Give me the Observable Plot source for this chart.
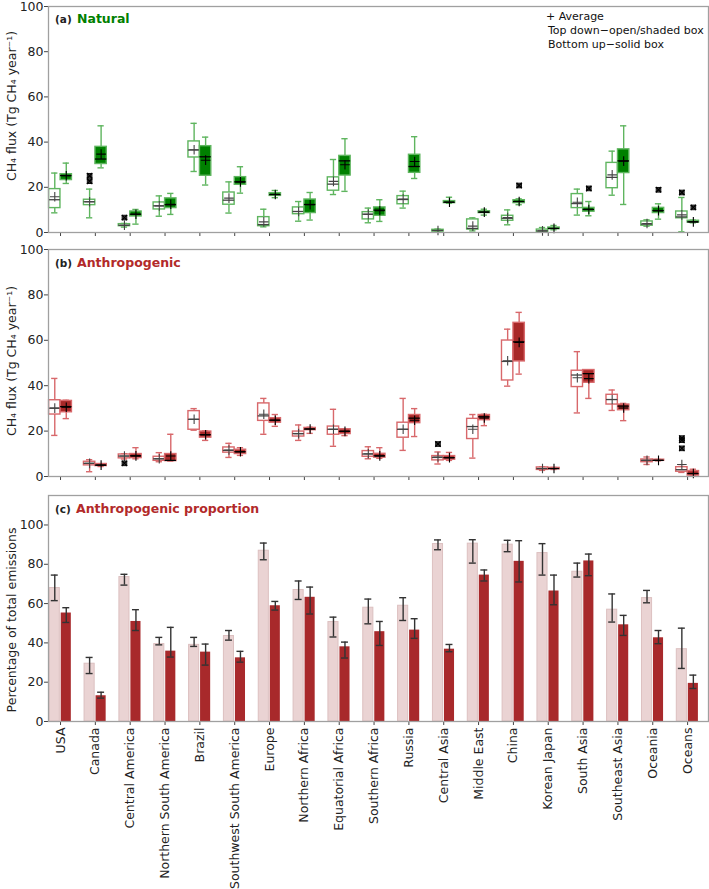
<!DOCTYPE html>
<html>
<head>
<meta charset="utf-8">
<script src="https://cdn.jsdelivr.net/npm/d3@7"></script>
<script src="https://cdn.jsdelivr.net/npm/@observablehq/plot@0.6"></script>
<style>
  html, body { margin: 0; padding: 0; background: #fff; }
  #chart { width: 709px; }
  #chart svg { display: block; }
</style>
</head>
<body>
<div id="chart"></div>
<script>
const regions = ["USA","Canada","Central America","Northern South America","Brazil","Southwest South America","Europe","Northern Africa","Equatorial Africa","Southern Africa","Russia","Central Asia","Middle East","China","Korean Japan","South Asia","Southeast Asia","Oceania","Oceans"];

// Box rows: [lowWhisker, q1, median, q3, highWhisker, mean]
const naturalTopDown = [
 [8.7,10.8,14.5,19.2,26.3,15.8],
 [6.5,12.1,13.6,14.5,19.2,13.6],
 [2.4,2.8,3.2,3.7,4.0,3.2],
 [7.2,10.2,11.8,13.3,16.2,11.8],
 [27.0,33.2,36.5,40.3,48.3,36.6],
 [8.6,12.3,14.3,17.7,22.4,15.2],
 [2.5,2.8,3.5,6.8,10.3,4.7],
 [5.0,8.1,9.3,11.1,13.7,9.3],
 [16.8,18.5,21.4,24.4,32.3,22.6],
 [4.3,5.8,8.1,9.0,10.8,8.0],
 [10.8,12.5,14.6,16.1,18.3,14.8],
 [0.3,0.4,0.9,1.2,1.5,0.9],
 [0.7,1.3,1.8,5.8,6.5,2.8],
 [3.4,5.2,6.3,7.4,10.0,6.6],
 [0.1,0.1,0.7,1.3,2.2,0.7],
 [7.7,10.8,12.8,17.0,19.2,13.4],
 [16.5,19.6,24.4,30.8,36.0,25.5],
 [2.8,3.0,3.7,4.9,5.6,4.0],
 [0.3,6.3,6.9,9.3,15.5,7.8]
];
const naturalBottomUp = [
 [21.7,23.2,25.2,25.8,30.7,25.1],
 [28.6,30.3,32.5,37.9,47.2,34.7],
 [3.7,7.1,8.1,9.3,10.2,8.1],
 [8.0,10.8,12.3,15.1,17.3,12.5],
 [21.0,25.1,33.5,38.2,42.2,32.0],
 [17.4,21.1,22.4,24.5,29.1,22.4],
 [15.4,16.2,16.8,17.4,18.6,16.8],
 [5.5,8.6,12.4,14.6,17.7,12.3],
 [18.2,25.2,31.7,33.9,41.5,30.0],
 [4.9,7.4,9.9,11.1,14.5,9.6],
 [23.9,26.4,29.2,34.4,42.4,31.4],
 [12.9,13.0,13.4,13.9,15.6,13.4],
 [7.7,8.6,9.0,9.4,10.3,9.0],
 [12.3,13.0,13.7,14.3,14.9,13.7],
 [1.2,1.5,1.8,2.2,3.1,1.8],
 [7.4,9.2,10.2,10.9,13.7,10.2],
 [12.4,26.3,31.7,36.8,47.2,31.6],
 [5.9,8.6,9.7,10.9,12.7,9.7],
 [4.3,4.4,4.7,5.2,5.5,4.7]
];
// outliers: [regionIndex, value]
const naturalTopDownOutliers = [[1,25.1],[1,22.7],[2,6.6],[18,17.7]];
const naturalBottomUpOutliers = [[13,20.8],[15,19.5],[17,18.9],[18,11.1]];

const anthroTopDown = [
 [18.1,27.3,30.1,33.6,43.2,30.1],
 [2.1,4.9,5.8,6.5,7.4,5.8],
 [7.7,8.0,9.0,9.7,10.0,9.0],
 [6.5,6.9,7.8,8.7,10.5,7.8],
 [20.4,20.6,25.2,28.8,29.9,25.2],
 [8.4,10.5,11.5,12.8,14.6,11.7],
 [18.6,24.5,26.7,32.2,34.4,27.4],
 [15.9,17.6,18.9,19.8,22.7,18.9],
 [13.3,18.4,20.8,22.0,29.6,20.8],
 [7.8,8.7,9.9,11.2,13.1,10.0],
 [11.5,17.1,20.8,23.7,34.4,20.8],
 [5.5,7.1,8.4,9.0,10.8,8.6],
 [8.1,16.5,22.0,25.4,27.3,20.8],
 [39.8,42.3,50.7,59.9,64.9,51.0],
 [2.7,2.9,3.5,4.0,4.3,3.5],
 [28.0,39.4,44.7,46.6,55.0,43.5],
 [29.1,31.7,33.9,36.0,38.1,33.9],
 [5.3,6.3,7.1,7.5,8.6,7.1],
 [1.8,2.1,3.0,4.1,4.4,5.3]
];
const anthroBottomUp = [
 [25.5,28.3,30.8,33.3,33.6,30.5],
 [4.4,4.6,5.0,5.5,5.6,5.0],
 [7.8,8.1,9.1,9.9,12.7,9.1],
 [6.8,6.8,7.1,9.9,18.6,9.0],
 [15.9,17.1,18.4,19.8,20.1,18.4],
 [9.3,9.9,10.9,11.8,12.7,10.9],
 [22.1,23.7,24.8,25.7,27.3,24.8],
 [19.0,20.4,20.9,21.4,21.7,20.9],
 [18.0,18.7,19.9,20.8,20.9,19.9],
 [8.0,8.3,9.1,10.0,12.7,9.1],
 [17.6,23.5,25.7,27.1,29.9,24.8],
 [7.1,7.4,8.3,9.0,10.6,8.3],
 [22.4,24.8,26.3,27.1,27.4,25.8],
 [45.1,50.7,59.3,67.7,72.3,59.1],
 [3.1,3.2,3.5,3.8,4.0,3.5],
 [34.4,41.3,45.3,46.9,46.9,43.1],
 [24.6,29.2,31.0,31.7,32.2,30.2],
 [6.9,6.9,7.1,7.4,7.5,7.1],
 [0.3,0.4,1.3,2.4,3.2,1.3]
];
const anthroTopDownOutliers = [[2,5.8],[11,14.3],[18,16.9],[18,16.0],[18,12.4]];
const anthroBottomUpOutliers = [];

// Panel (c): anthropogenic proportion (%)
const propTopDown   = [67.9,29.4,73.5,39.4,39.0,43.5,86.9,66.9,50.6,57.9,58.9,90.3,90.5,90.0,85.7,76.2,56.9,62.8,36.8];
const propTopDownLo = [61.5,24.4,69.4,39.0,38.2,41.4,82.3,62.1,43.0,49.7,51.4,87.4,80.6,86.4,74.5,73.5,50.6,60.4,27.0];
const propTopDownHi = [74.5,32.6,74.9,42.8,42.8,46.3,90.8,71.5,53.1,62.3,63.0,92.4,92.5,92.2,90.5,80.6,64.9,66.7,47.5];
const propBottomUp   = [55.2,13.1,50.9,35.8,35.3,32.4,58.9,63.2,38.0,45.7,46.5,36.8,74.5,81.5,66.4,81.7,49.2,42.6,19.4];
const propBottomUpLo = [50.4,11.9,46.3,32.8,28.7,30.2,56.7,54.7,32.3,38.7,42.3,35.5,71.5,71.0,59.4,74.2,43.8,39.6,16.8];
const propBottomUpHi = [57.9,14.9,56.9,47.9,39.4,35.7,61.1,68.4,40.4,50.9,52.3,39.2,77.1,92.0,74.5,85.2,54.0,46.3,23.6];

const yTicks = [0,20,40,60,80,100];
const FONT = "DejaVu Sans";
const xDomain = [-0.345, 18.6];
const OFF = 0.165, HW = 0.163, CW = 0.09;

function boxMarks(rows, off, o) {
  const d = rows.map((r, i) => ({x: i + off, lo: r[0], q1: r[1], med: r[2], q3: r[3], hi: r[4], mean: r[5]}));
  const sw = 1.4;
  return [
    Plot.ruleX(d, {x: "x", y1: "lo", y2: "q1", stroke: o.whisker, strokeWidth: sw}),
    Plot.ruleX(d, {x: "x", y1: "q3", y2: "hi", stroke: o.whisker, strokeWidth: sw}),
    Plot.ruleY(d, {y: "lo", x1: v => v.x - CW, x2: v => v.x + CW, stroke: o.whisker, strokeWidth: sw}),
    Plot.ruleY(d, {y: "hi", x1: v => v.x - CW, x2: v => v.x + CW, stroke: o.whisker, strokeWidth: sw}),
    Plot.rect(d, {x1: v => v.x - HW, x2: v => v.x + HW, y1: "q1", y2: "q3", fill: o.fill, stroke: o.boxStroke, strokeWidth: sw}),
    Plot.ruleY(d, {y: "med", x1: v => v.x - HW, x2: v => v.x + HW, stroke: o.median, strokeWidth: 1.3}),
    Plot.dot(d, {x: "x", y: "mean", symbol: "plus", r: 3.2, stroke: o.median, strokeWidth: 1.1})
  ];
}
function outlierMarks(list, off) {
  const d = list.map(([i, v]) => ({x: i + off, v}));
  return [
    Plot.dot(d, {x: "x", y: "v", symbol: "square", r: 2.6, fill: "#555", stroke: "#111", strokeWidth: 1}),
    Plot.dot(d, {x: "x", y: "v", symbol: "times", r: 2.6, stroke: "#000", strokeWidth: 1.3})
  ];
}

function boxPanel(cfg) {
  const svg = Plot.plot({
    width: 709, height: cfg.height,
    marginLeft: 48, marginRight: 1, marginTop: cfg.marginTop, marginBottom: 8,
    style: {fontFamily: FONT, fontSize: "12.5px", background: "#fff", color: "#222"},
    x: {domain: xDomain},
    y: {domain: [0, 100]},
    marks: [
      Plot.axisX({ticks: d3.range(regions.length), tickFormat: () => "", tickSize: 4, label: null, stroke: "#444"}),
      Plot.axisY({ticks: yTicks, tickSize: 4, tickPadding: 1, label: null, stroke: "#444"}),
      ...boxMarks(cfg.td, -OFF, {fill: "#fff", boxStroke: cfg.light, whisker: cfg.light, median: "#444"}),
      ...boxMarks(cfg.bu, OFF, {fill: cfg.dark, boxStroke: cfg.light, whisker: cfg.light, median: "#000"}),
      ...outlierMarks(cfg.tdOut, -OFF),
      ...outlierMarks(cfg.buOut, OFF),
      Plot.frame({stroke: "#a0a0a0", strokeWidth: 1.3})
    ]
  });
  return svg;
}

function addText(svg, x, y, str, attrs) {
  const t = d3.select(svg).append("text").attr("x", x).attr("y", y).text(str)
    .attr("font-family", FONT).attr("text-anchor", "start");
  for (const k in attrs) t.attr(k, attrs[k]);
  return t;
}
function addYLabel(svg, cy, str) {
  d3.select(svg).append("text")
    .attr("transform", `translate(16,${cy}) rotate(-90)`)
    .attr("text-anchor", "middle")
    .attr("font-family", FONT).attr("font-size", 12.5).attr("fill", "#222")
    .text(str);
}

const chart = document.getElementById("chart");

// Panel (a)
const svgA = boxPanel({height: 240, marginTop: 6, td: naturalTopDown, bu: naturalBottomUp,
  tdOut: naturalTopDownOutliers, buOut: naturalBottomUpOutliers, light: "#5fb55f", dark: "#008000"});
addText(svgA, 55, 23, "(a)", {"font-size": 10.5, "font-weight": "bold", fill: "#222"});
addText(svgA, 77, 23, "Natural", {"font-size": 12.5, "font-weight": "bold", fill: "#008000"});
addText(svgA, 546, 20, "+ Average", {"font-size": 11, fill: "#111"});
addText(svgA, 548, 34, "Top down\u2212open/shaded box", {"font-size": 11, fill: "#111"});
addText(svgA, 548, 48, "Bottom up\u2212solid box", {"font-size": 11, fill: "#111"});
addYLabel(svgA, 106, "CH\u2084 flux (Tg CH\u2084 year\u207B\u00B9)");
chart.appendChild(svgA);

// Panel (b)
const svgB = boxPanel({height: 244, marginTop: 9, td: anthroTopDown, bu: anthroBottomUp,
  tdOut: anthroTopDownOutliers, buOut: anthroBottomUpOutliers, light: "#d8686b", dark: "#a82828"});
addText(svgB, 55, 27, "(b)", {"font-size": 10.5, "font-weight": "bold", fill: "#222"});
addText(svgB, 77, 27, "Anthropogenic", {"font-size": 12.5, "font-weight": "bold", fill: "#b22a2a"});
addYLabel(svgB, 121, "CH\u2084 flux (Tg CH\u2084 year\u207B\u00B9)");
chart.appendChild(svgB);

// Panel (c)
const barsTD = regions.map((r, i) => ({x: i - OFF, v: propTopDown[i], lo: propTopDownLo[i], hi: propTopDownHi[i]}));
const barsBU = regions.map((r, i) => ({x: i + OFF, v: propBottomUp[i], lo: propBottomUpLo[i], hi: propBottomUpHi[i]}));
const BW = 0.145, EC = 0.1;
function errMarks(d) {
  return [
    Plot.ruleX(d, {x: "x", y1: "lo", y2: "hi", stroke: "#333", strokeWidth: 1.4}),
    Plot.ruleY(d, {y: "lo", x1: v => v.x - EC, x2: v => v.x + EC, stroke: "#333", strokeWidth: 1.4}),
    Plot.ruleY(d, {y: "hi", x1: v => v.x - EC, x2: v => v.x + EC, stroke: "#333", strokeWidth: 1.4})
  ];
}
const svgC = Plot.plot({
  width: 709, height: 405,
  marginLeft: 48, marginRight: 1, marginTop: 11, marginBottom: 168,
  style: {fontFamily: FONT, fontSize: "12.5px", background: "#fff", color: "#222"},
  x: {domain: xDomain},
  y: {domain: [0, 115]},
  marks: [
    Plot.rect(barsTD, {x1: v => v.x - BW, x2: v => v.x + BW, y1: 0, y2: "v", fill: "#ead3d3", stroke: "#dcc0c0", strokeWidth: 1}),
    Plot.rect(barsBU, {x1: v => v.x - BW, x2: v => v.x + BW, y1: 0, y2: "v", fill: "#a8292b"}),
    ...errMarks(barsTD),
    ...errMarks(barsBU),
    Plot.axisX({ticks: d3.range(regions.length), tickFormat: i => regions[i], tickRotate: -90, tickSize: 4, tickPadding: 2, label: null, stroke: "#444"}),
    Plot.axisY({ticks: yTicks, tickSize: 4, tickPadding: 1, label: null, stroke: "#444"}),
    Plot.frame({stroke: "#a0a0a0", strokeWidth: 1.3})
  ]
});
addText(svgC, 55, 29, "(c)", {"font-size": 10.5, "font-weight": "bold", fill: "#222"});
addText(svgC, 76, 29, "Anthropogenic proportion", {"font-size": 12.5, "font-weight": "bold", fill: "#b22a2a"});
addYLabel(svgC, 136, "Percentage of total emissions");
chart.appendChild(svgC);
</script>
</body>
</html>
